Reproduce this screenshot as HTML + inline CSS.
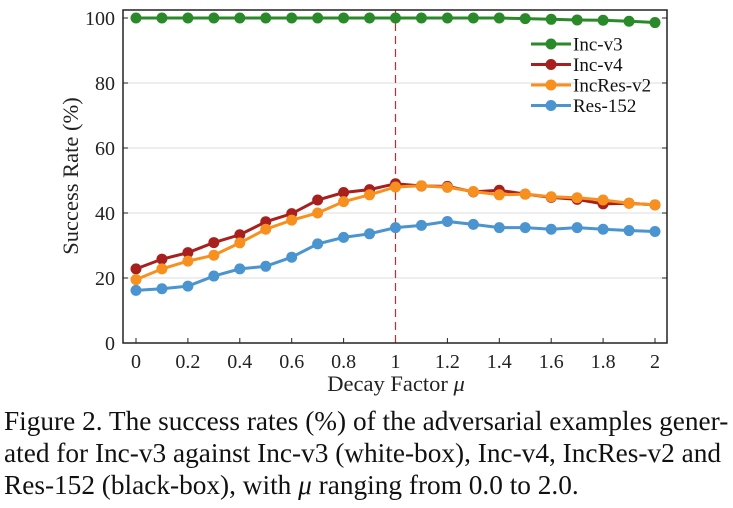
<!DOCTYPE html>
<html><head><meta charset="utf-8"><style>
body{margin:0;background:#fff;width:733px;height:508px;overflow:hidden;font-family:"Liberation Serif",serif;}
svg{position:absolute;left:0;top:0}
#cap{position:absolute;left:4px;top:405px;width:733px;font-size:27.3px;line-height:32px;color:#111;white-space:nowrap;}
</style></head><body>
<svg width="733" height="400" id="chart"></svg>
<div id="cap">Figure 2. The success rates (%) of the adversarial examples gener-<br>ated for Inc-v3 against Inc-v3 (white-box), Inc-v4, IncRes-v2 and<br>Res-152 (black-box), with <i>μ</i> ranging from 0.0 to 2.0.</div>
<script>
const xs=[0,0.1,0.2,0.3,0.4,0.5,0.6,0.7,0.8,0.9,1,1.1,1.2,1.3,1.4,1.5,1.6,1.7,1.8,1.9,2];
const incV3=[100,100,100,100,100,100,100,100,100,100,100,100,100,100,100,99.8,99.6,99.4,99.3,99,98.6];
const incV4=[22.8,25.8,27.8,30.9,33.3,37.3,39.8,44,46.3,47.2,49,48.3,48.2,46.5,47,45.8,44.8,44.2,42.8,43,42.5];
const incResV2=[19.5,22.8,25.2,27,30.8,35,37.8,40,43.5,45.6,48,48.4,47.9,46.6,45.6,45.8,45,44.7,44,43,42.5];
const res152=[16.2,16.7,17.5,20.6,22.8,23.6,26.4,30.5,32.5,33.6,35.5,36.2,37.4,36.5,35.5,35.5,35,35.5,35,34.6,34.3];
const xTicks=[0,0.2,0.4,0.6,0.8,1,1.2,1.4,1.6,1.8,2];
const yTicks=[0,20,40,60,80,100];
const seriesNames=["Inc-v3","Inc-v4","IncRes-v2","Res-152"];
const colors=["#2a8a2a","#a8201e","#f7901e","#4a94cf"];
const svg=document.getElementById('chart');const NS="http://www.w3.org/2000/svg";
const L=123,R=667,T=10,B=343;
const X=v=>136+v*(655-136)/2, Y=v=>343-v*3.25;
function el(t,a,p){const e=document.createElementNS(NS,t);for(const k in a)e.setAttribute(k,a[k]);(p||svg).appendChild(e);return e;}
yTicks.forEach(t=>{
 if(t>0&&t<100){const g=el('line',{x1:L,x2:R,y1:Y(t),y2:Y(t),stroke:'#ddd','stroke-width':1});
 
 }
 const tx=el('text',{x:L-8,y:Y(t)+7,'text-anchor':'end','font-size':20,fill:'#222'});tx.textContent=t;
 
 
 el('line',{x1:L,x2:L+5,y1:Y(t),y2:Y(t),stroke:'#222'});el('line',{x1:R,x2:R-5,y1:Y(t),y2:Y(t),stroke:'#222'});
});
xTicks.forEach(t=>{
 el('line',{x1:X(t),x2:X(t),y1:B,y2:B-5,stroke:'#222'});
 const tx=el('text',{x:X(t),y:B+25,'text-anchor':'middle','font-size':20,fill:'#222'});tx.textContent=t;
 
 
});
const ref=el('line',{x1:X(1),x2:X(1),y1:T,y2:B,stroke:'#d0272d','stroke-width':1.2,'stroke-dasharray':'8,5'});


[incV3,incV4,incResV2,res152].forEach((s,i)=>{
 const g=el('g',{});
 
 
 el('polyline',{points:s.map((v,j)=>X(xs[j])+','+Y(v)).join(' '),fill:'none',stroke:colors[i],'stroke-width':3},g);
 s.forEach((v,j)=>{const c=el('circle',{cx:X(xs[j]),cy:Y(v),r:5.5,fill:colors[i]},g);
  
  });
 const ly=44+i*20.5;
 const lg=el('g',{});
 
 
 el('line',{x1:531,x2:571,y1:ly,y2:ly,stroke:colors[i],'stroke-width':3},lg);
 el('circle',{cx:551,cy:ly,r:5.5,fill:colors[i]},lg);
 const t=el('text',{x:573,y:ly+6.5,'font-size':19,fill:'#111'},lg);t.textContent=seriesNames[i];
});
el('rect',{x:L,y:T,width:R-L,height:B-T,fill:'none',stroke:'#222','stroke-width':1.5});
const xt=el('text',{x:396,y:391,'text-anchor':'middle','font-size':22.5,fill:'#222'});xt.innerHTML='Decay Factor <tspan font-style="italic">μ</tspan>';


const yt=el('text',{x:0,y:0,'text-anchor':'middle','font-size':22.5,fill:'#222',transform:'translate(78,176) rotate(-90)'});yt.textContent='Success Rate (%)';


</script>
</body></html>
